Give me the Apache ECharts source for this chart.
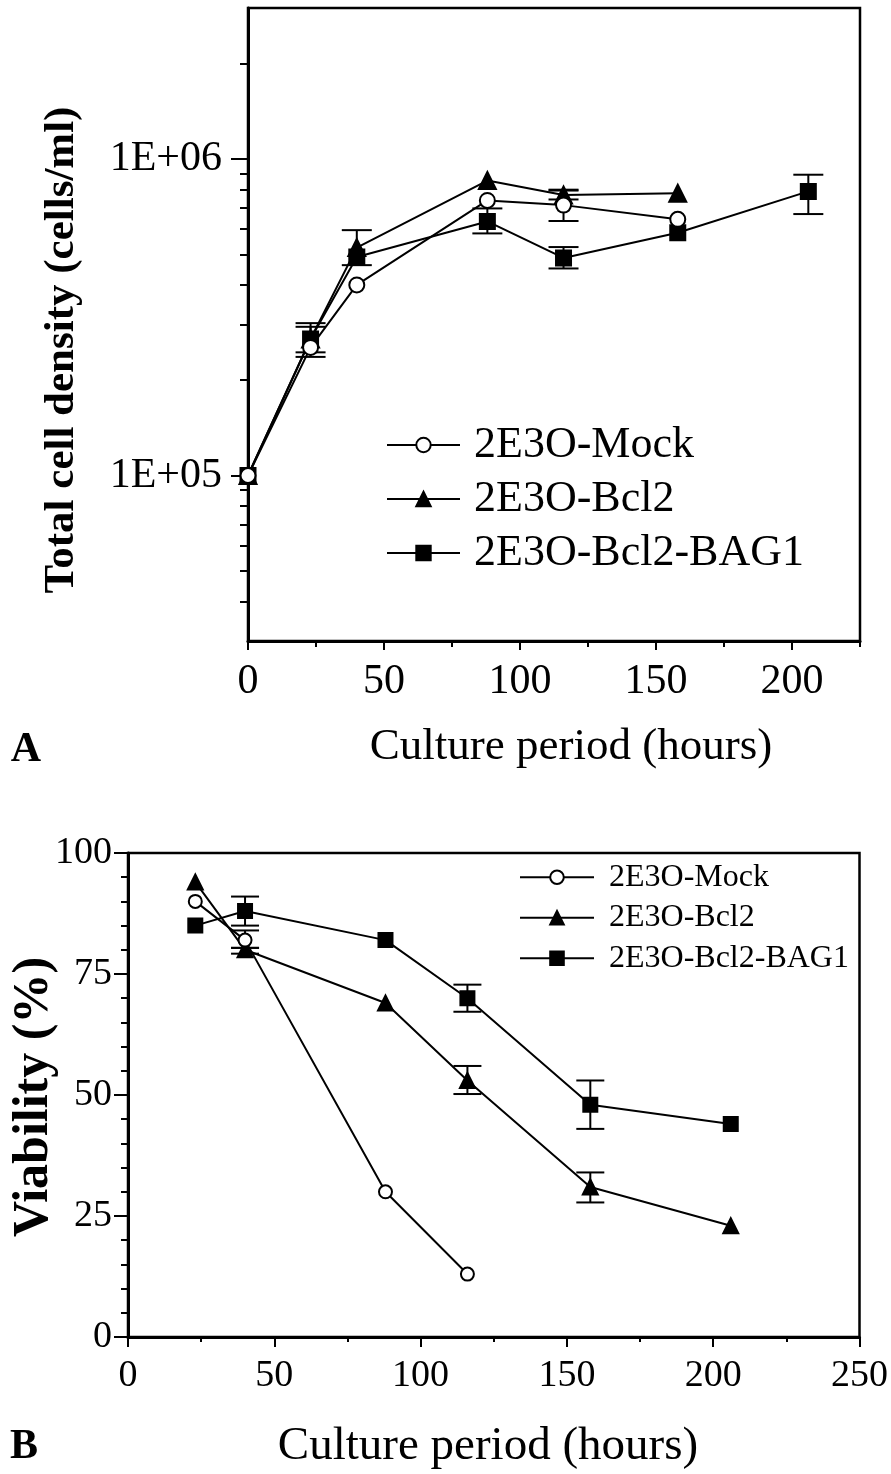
<!DOCTYPE html>
<html>
<head>
<meta charset="utf-8">
<script src="https://cdn.jsdelivr.net/npm/echarts@6/dist/echarts.min.js"></script>
<style>
html, body { margin: 0; padding: 0; background: #fff; }
#chart { width: 891px; height: 1474px; }
</style>
</head>
<body>
<div id="chart"></div>
<script>
// panel A - total cell density (cells/ml)
const densHours = [0, 23, 40, 88, 116, 158];
const densHoursBag1 = [0, 23, 40, 88, 116, 158, 206];
const densMock = [1e5, 2.54e5, 4.0e5, 7.4e5, 7.15e5, 6.45e5];
const densBcl2 = [1e5, 2.7e5, 5.25e5, 8.55e5, 7.7e5, 7.8e5];
const densBag1 = [1e5, 2.7e5, 4.9e5, 6.35e5, 4.87e5, 5.85e5, 7.9e5];
// error bars [hour, low, high]
const densErrMock = [[116, 6.37e5, 8.0e5]];
const densErrBcl2 = [[23, 2.45e5, 2.95e5], [40, 4.62e5, 5.96e5], [116, 7.45e5, 7.95e5]];
const densErrBag1 = [[23, 2.37e5, 3.03e5], [88, 5.82e5, 6.98e5], [116, 4.51e5, 5.27e5], [206, 6.7e5, 8.92e5]];
const densLabelTicks = [1e5, 1e6];
const densMinorTicks = [4e4, 5e4, 6e4, 7e4, 8e4, 9e4, 2e5, 3e5, 4e5, 5e5, 6e5, 7e5, 8e5, 9e5, 2e6];
const densXMajor = [0, 50, 100, 150, 200];
const densXMinor = [25, 75, 125, 175, 225];

// panel B - viability (%)
const viaHoursMock = [23, 40, 88, 116];
const viaHours = [23, 40, 88, 116, 158, 206];
const viaMock = [90, 82, 30, 13];
const viaBcl2 = [94, 80, 69, 53, 31, 23];
const viaBag1 = [85, 88, 82, 70, 48, 44];
const viaErrMock = [[40, 80.4, 84]];
const viaErrBcl2 = [[40, 79.2, 80.4], [116, 50.2, 56], [158, 27.8, 34]];
const viaErrBag1 = [[40, 85, 91], [116, 67.2, 72.8], [158, 43, 53]];

const names = ['2E3O-Mock', '2E3O-Bcl2', '2E3O-Bcl2-BAG1'];
const serif = "'Liberation Serif', 'Times New Roman', serif";

function zip(xs, ys) {
  return xs.map((x, i) => [x, ys[i]]);
}

function errorBars(half) {
  return function (params, api) {
    const x = api.value(0);
    const lo = api.coord([x, api.value(1)]);
    const hi = api.coord([x, api.value(2)]);
    const style = { stroke: '#000', lineWidth: 2 };
    return {
      type: 'group',
      children: [
        { type: 'line', shape: { x1: lo[0], y1: lo[1], x2: hi[0], y2: hi[1] }, style: style },
        { type: 'line', shape: { x1: hi[0] - half, y1: hi[1], x2: hi[0] + half, y2: hi[1] }, style: style },
        { type: 'line', shape: { x1: lo[0] - half, y1: lo[1], x2: lo[0] + half, y2: lo[1] }, style: style }
      ]
    };
  };
}

function lineSeries(name, data, xi, symbol, size) {
  return {
    name: name,
    type: 'line',
    xAxisIndex: xi,
    yAxisIndex: xi,
    data: data,
    symbol: symbol,
    symbolSize: size,
    showAllSymbol: true,
    z: 3,
    lineStyle: { color: '#000', width: 2 },
    itemStyle: { color: '#000', borderColor: '#000', borderWidth: 2 }
  };
}

function errSeries(data, xi, half) {
  return {
    type: 'custom',
    xAxisIndex: xi,
    yAxisIndex: xi,
    data: data,
    z: 2,
    silent: true,
    encode: { x: 0, y: [1, 2] },
    renderItem: errorBars(half)
  };
}

const tickStyle = { color: '#000', width: 2 };
const labelStyle = { color: '#000', fontFamily: serif };

const myChart = echarts.init(document.getElementById('chart'), null, { renderer: 'canvas' });

myChart.setOption({
  backgroundColor: '#fff',
  animation: false,
  grid: [
    { left: 248, top: 8, right: 31, bottom: 833, show: true, borderColor: '#000', borderWidth: 2.5 },
    { left: 128, top: 853, right: 29, bottom: 137, show: true, borderColor: '#000', borderWidth: 2.5 }
  ],
  legend: [
    {
      data: names,
      orient: 'vertical',
      left: 381,
      top: 413,
      itemWidth: 73,
      itemHeight: 18,
      itemGap: 0,
      textStyle: { color: '#000', fontFamily: serif, fontSize: 44, lineHeight: 54, padding: [0, 0, 0, 9] }
    },
    {
      data: names,
      orient: 'vertical',
      left: 514,
      top: 852,
      itemWidth: 74,
      itemHeight: 17,
      itemGap: 0,
      textStyle: { color: '#000', fontFamily: serif, fontSize: 32, lineHeight: 40.5, padding: [0, 0, 0, 10] }
    }
  ],
  xAxis: [
    {
      gridIndex: 0, type: 'value', min: 0, max: 225,
      axisLine: { lineStyle: { color: '#000', width: 3 } },
      axisTick: { customValues: densXMajor, length: 9, lineStyle: tickStyle },
      axisLabel: Object.assign({ customValues: densXMajor, fontSize: 42, margin: 20 }, labelStyle),
      splitLine: { show: false }
    },
    {
      gridIndex: 0, type: 'value', min: 0, max: 225, position: 'bottom',
      axisLine: { show: false },
      axisTick: { customValues: densXMinor, length: 6, lineStyle: tickStyle },
      axisLabel: { show: false },
      splitLine: { show: false }
    },
    {
      gridIndex: 1, type: 'value', min: 0, max: 250, interval: 50,
      axisLine: { lineStyle: { color: '#000', width: 3 } },
      axisTick: { length: 10, lineStyle: tickStyle },
      minorTick: { show: true, splitNumber: 2, length: 5, lineStyle: tickStyle },
      axisLabel: Object.assign({ fontSize: 38, margin: 20 }, labelStyle),
      splitLine: { show: false }
    }
  ],
  yAxis: [
    {
      gridIndex: 0, type: 'log', logBase: 10, min: 3e4, max: 3e6,
      axisLine: { lineStyle: { color: '#000', width: 3 } },
      axisTick: { customValues: densLabelTicks, length: 17, lineStyle: tickStyle },
      axisLabel: Object.assign({
        customValues: densLabelTicks, fontSize: 42, margin: 26,
        formatter: function (v) {
          const e = Math.round(Math.log10(v));
          return '1E+' + String(e).padStart(2, '0');
        }
      }, labelStyle),
      splitLine: { show: false },
      minorSplitLine: { show: false }
    },
    {
      gridIndex: 0, type: 'log', logBase: 10, min: 3e4, max: 3e6, position: 'left',
      axisLine: { show: false },
      axisTick: { customValues: densMinorTicks, length: 8, lineStyle: tickStyle },
      axisLabel: { show: false },
      splitLine: { show: false }
    },
    {
      gridIndex: 1, type: 'value', min: 0, max: 100, interval: 25,
      axisLine: { lineStyle: { color: '#000', width: 3 } },
      axisTick: { length: 14, lineStyle: tickStyle },
      minorTick: { show: true, splitNumber: 5, length: 7, lineStyle: tickStyle },
      axisLabel: Object.assign({ fontSize: 38, margin: 16 }, labelStyle),
      splitLine: { show: false }
    }
  ],
  series: [
    errSeries(densErrMock, 0, 15),
    errSeries(densErrBcl2, 0, 15),
    errSeries(densErrBag1, 0, 15),
    lineSeries(names[2], zip(densHoursBag1, densBag1), 0, 'rect', 15),
    lineSeries(names[1], zip(densHours, densBcl2), 0, 'triangle', 17),
    lineSeries(names[0], zip(densHours, densMock), 0, 'emptyCircle', 15),

    errSeries(viaErrMock, 2, 14),
    errSeries(viaErrBcl2, 2, 14),
    errSeries(viaErrBag1, 2, 14),
    lineSeries(names[2], zip(viaHours, viaBag1), 2, 'rect', 14),
    lineSeries(names[1], zip(viaHours, viaBcl2), 2, 'triangle', 15),
    lineSeries(names[0], zip(viaHoursMock, viaMock), 2, 'emptyCircle', 13)
  ],
  graphic: [
    { type: 'text', x: 62, y: 350, rotation: Math.PI / 2,
      style: { text: 'Total cell density (cells/ml)', font: 'bold 43px ' + serif, fill: '#000', align: 'center', verticalAlign: 'middle' } },
    { type: 'text', x: 571, y: 747,
      style: { text: 'Culture period (hours)', font: '45px ' + serif, fill: '#000', align: 'center', verticalAlign: 'middle' } },
    { type: 'text', x: 26, y: 750,
      style: { text: 'A', font: 'bold 42px ' + serif, fill: '#000', align: 'center', verticalAlign: 'middle' } },
    { type: 'text', x: 34, y: 1097, rotation: Math.PI / 2,
      style: { text: 'Viability (%)', font: 'bold 50px ' + serif, fill: '#000', align: 'center', verticalAlign: 'middle' } },
    { type: 'text', x: 488, y: 1447,
      style: { text: 'Culture period (hours)', font: '47px ' + serif, fill: '#000', align: 'center', verticalAlign: 'middle' } },
    { type: 'text', x: 24, y: 1447,
      style: { text: 'B', font: 'bold 42px ' + serif, fill: '#000', align: 'center', verticalAlign: 'middle' } }
  ]
});
</script>
</body>
</html>
